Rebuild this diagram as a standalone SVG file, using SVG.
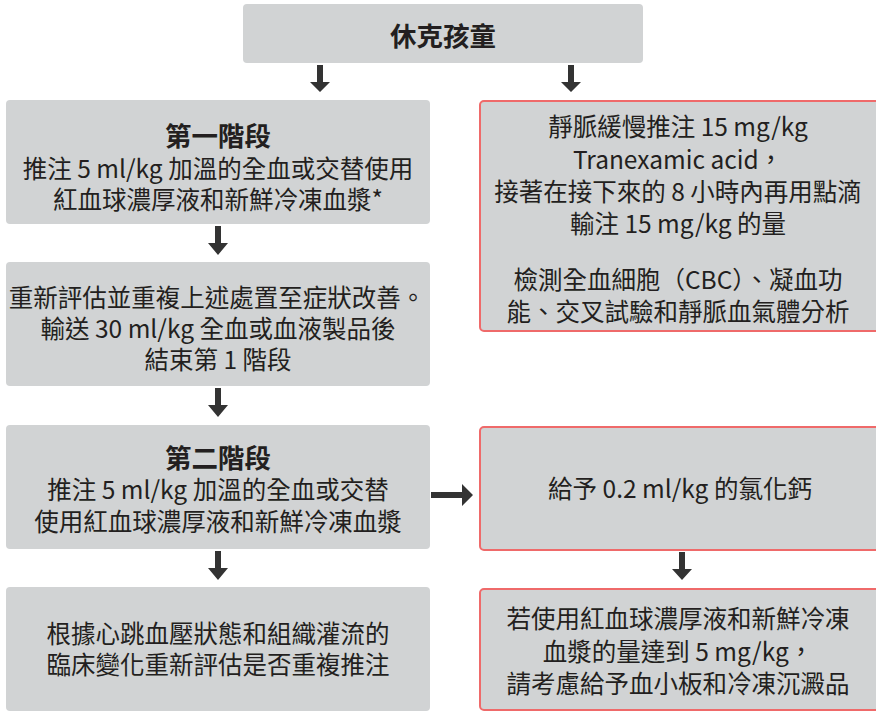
<svg xmlns="http://www.w3.org/2000/svg" width="876" height="711" viewBox="0 0 876 711">
<defs>
<style>
.box{fill:#d1d3d4;}
.red{fill:#d1d3d4;stroke:#ef6a6a;stroke-width:2;}
text{font-family:"Noto Sans CJK TC","Noto Sans",sans-serif;fill:#231f20;text-anchor:middle;dominant-baseline:central;font-size:24.5px;}
.t{font-weight:bold;font-size:26.5px;}
.arr{fill:#333333;}
</style>
</defs>
<rect width="876" height="711" fill="#ffffff"/>
<g id="n-top">
<rect class="box" x="243" y="4" width="400" height="59" rx="4"/>
<text class="t" x="443" y="34">休克孩童</text>
</g>
<g id="n-phase1">
<rect class="box" x="6" y="100" width="424" height="124" rx="4"/>
<text class="t" x="218" y="134">第一階段</text>
<text x="218" y="167">推注 5 ml/kg 加溫的全血或交替使用</text>
<text x="218" y="198">紅血球濃厚液和新鮮冷凍血漿*</text>
</g>
<g id="n-reassess">
<rect class="box" x="6" y="262" width="424" height="124" rx="4"/>
<text x="217" y="296">重新評估並重複上述處置至症狀改善。</text>
<text x="218" y="327">輸送 30 ml/kg 全血或血液製品後</text>
<text x="218" y="358">結束第 1 階段</text>
</g>
<g id="n-phase2">
<rect class="box" x="6" y="425" width="424" height="124" rx="4"/>
<text class="t" x="218" y="456">第二階段</text>
<text x="218" y="488">推注 5 ml/kg 加溫的全血或交替</text>
<text x="218" y="520">使用紅血球濃厚液和新鮮冷凍血漿</text>
</g>
<g id="n-repeat">
<rect class="box" x="6" y="587" width="424" height="124" rx="4"/>
<text x="218" y="632">根據心跳血壓狀態和組織灌流的</text>
<text x="218" y="663">臨床變化重新評估是否重複推注</text>
</g>
<g id="n-txa">
<rect class="red" x="480" y="101" width="400" height="230" rx="4"/>
<text x="678" y="125">靜脈緩慢推注 15 mg/kg</text>
<text x="678" y="158">Tranexamic acid，</text>
<text x="678" y="190">接著在接下來的 8 小時內再用點滴</text>
<text x="678" y="222">輸注 15 mg/kg 的量</text>
<text x="678" y="278">檢測全血細胞（CBC）、凝血功</text>
<text x="678" y="310">能、交叉試驗和靜脈血氣體分析</text>
</g>
<g id="n-calcium">
<rect class="red" x="480" y="427" width="400" height="123" rx="4"/>
<text x="680" y="487">給予 0.2 ml/kg 的氯化鈣</text>
</g>
<g id="n-platelets">
<rect class="red" x="480" y="589" width="400" height="121" rx="4"/>
<text x="678" y="617">若使用紅血球濃厚液和新鮮冷凍</text>
<text x="678" y="650">血漿的量達到 5 mg/kg，</text>
<text x="678" y="682">請考慮給予血小板和冷凍沉澱品</text>
</g>
<g id="connectors">
<path class="arr" d="M317,65 h6 v17 h7 l-10,10 l-10,-10 h7 Z"/>
<path class="arr" d="M568,65 h6 v17 h7 l-10,10 l-10,-10 h7 Z"/>
<path class="arr" d="M215,226 h6 v17 h7 l-10,12 l-10,-12 h7 Z"/>
<path class="arr" d="M215,388 h6 v17 h7 l-10,12 l-10,-12 h7 Z"/>
<path class="arr" d="M215,551 h6 v17 h7 l-10,12 l-10,-12 h7 Z"/>
<path class="arr" d="M679,552 h6 v17 h7 l-10,11 l-10,-11 h7 Z"/>
<path class="arr" d="M431,492 h31 v-8 l11,11 l-11,11 v-8 h-31 Z"/>
</g>
</svg>
